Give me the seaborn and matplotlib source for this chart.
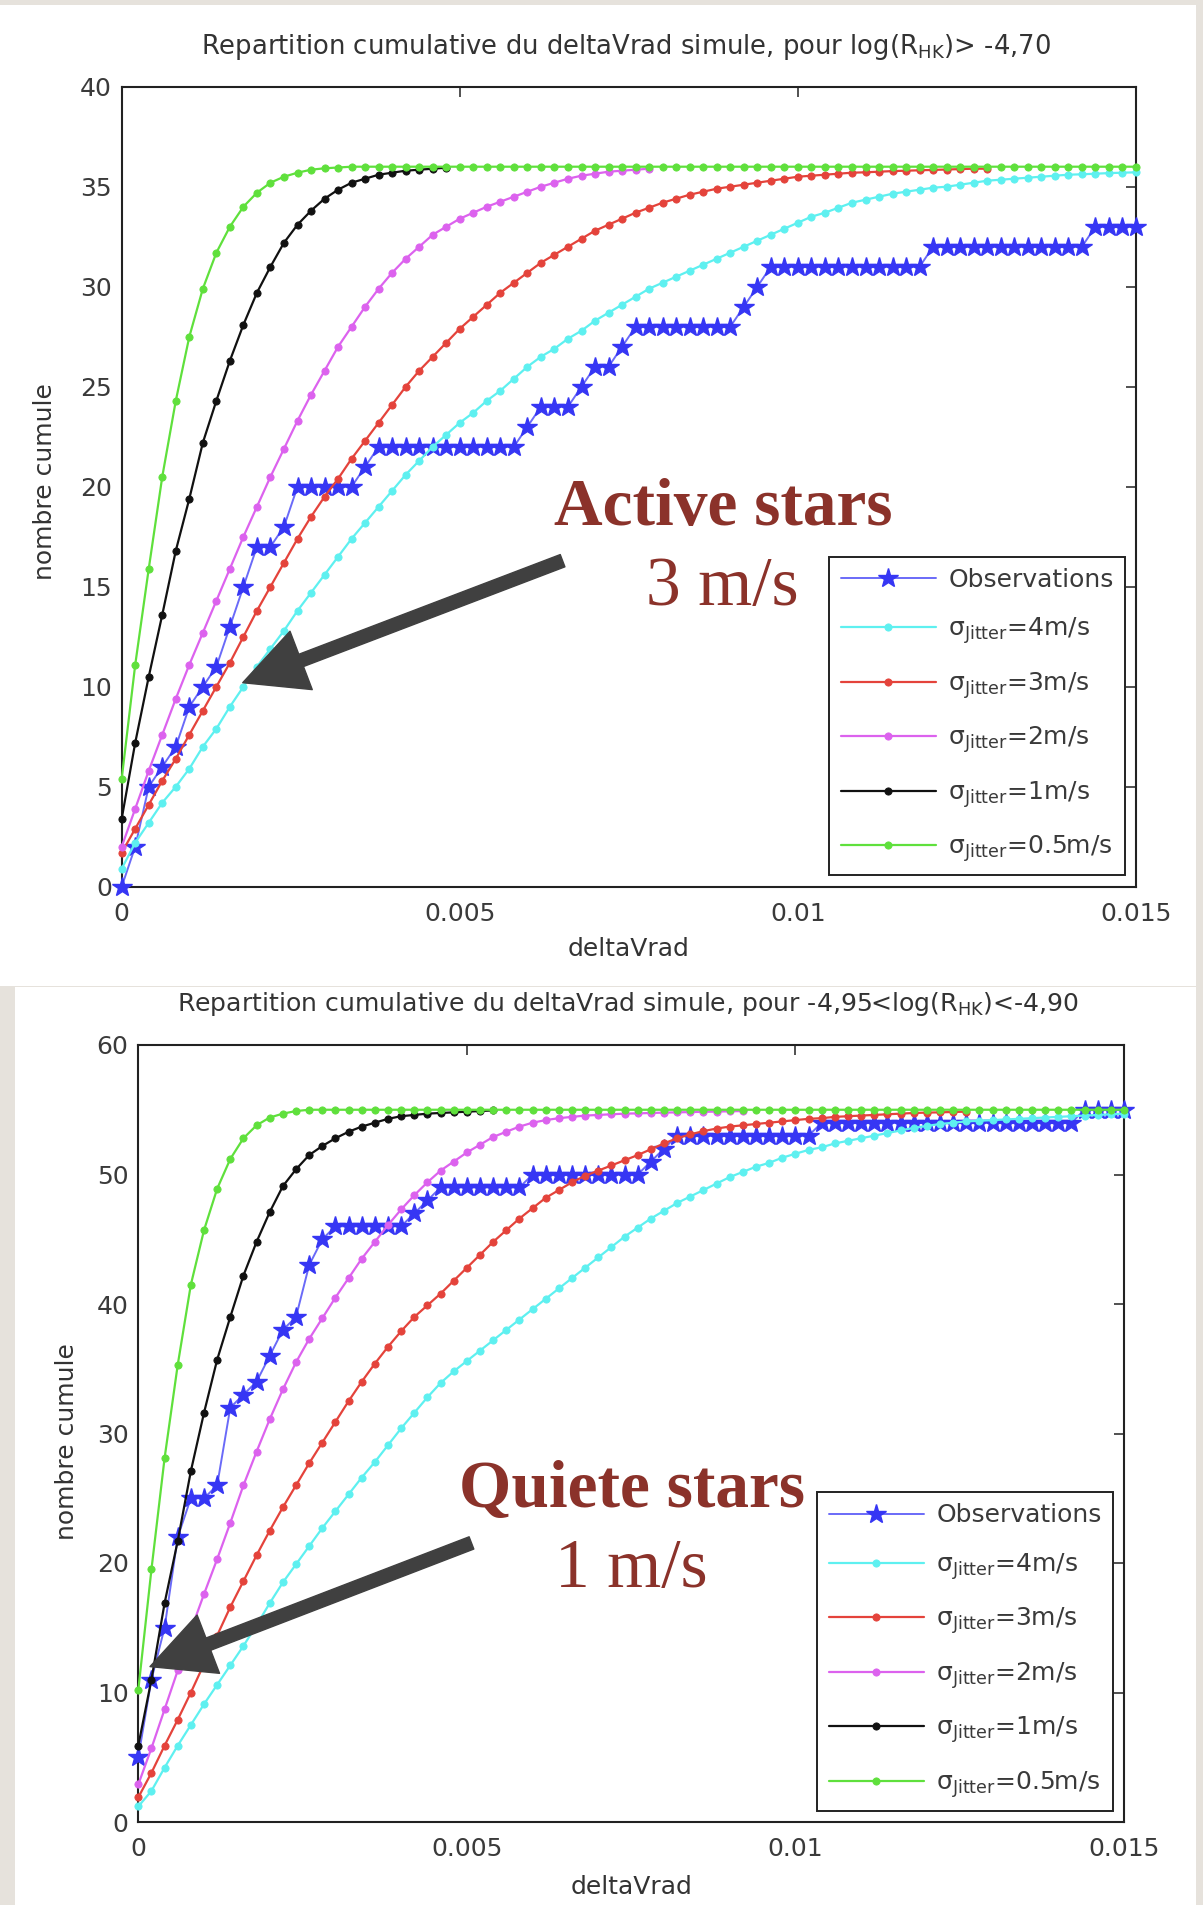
import numpy as np
import matplotlib
matplotlib.use("Agg")
import matplotlib.pyplot as plt
import seaborn as sns
from matplotlib.patches import Rectangle

# ---------------------------------------------------------------------------
# Cumulative counts of simulated deltaVrad, sampled every 0.0002 from 0
# ---------------------------------------------------------------------------
grid_step = 0.0002
grid_len = 76

# Panel 1 : log(R'HK) > -4,70  (36 stars)
obs_active = [0, 2, 5, 6, 7, 9, 10, 11, 13, 15,
              17, 17, 18, 20, 20, 20, 20, 20, 21, 22,
              22, 22, 22, 22, 22, 22, 22, 22, 22, 22,
              23, 24, 24, 24, 25, 26, 26, 27, 28, 28,
              28, 28, 28, 28, 28, 28, 29, 30, 31, 31,
              31, 31, 31, 31, 31, 31, 31, 31, 31, 31,
              32, 32, 32, 32, 32, 32, 32, 32, 32, 32,
              32, 32, 33, 33, 33, 33]
jit4_active = [0.9, 2.2, 3.2, 4.2, 5.0, 5.9, 7.0, 7.9, 9.0, 10.0,
               11.0, 11.9, 12.8, 13.8, 14.7, 15.6, 16.5, 17.4, 18.2, 19.0,
               19.8, 20.6, 21.3, 22.0, 22.6, 23.2, 23.7, 24.3, 24.8, 25.4,
               26.0, 26.5, 26.9, 27.4, 27.8, 28.3, 28.7, 29.1, 29.5, 29.9,
               30.2, 30.5, 30.8, 31.1, 31.4, 31.7, 32.0, 32.3, 32.6, 32.9,
               33.2, 33.5, 33.7, 33.95, 34.2, 34.35, 34.5, 34.65, 34.75, 34.85,
               34.95, 35.0, 35.1, 35.2, 35.3, 35.35, 35.4, 35.45, 35.5, 35.55,
               35.6, 35.62, 35.65, 35.68, 35.7, 35.72]
jit3_active = [1.7, 2.9, 4.1, 5.3, 6.4, 7.6, 8.8, 10.0, 11.2, 12.5,
               13.8, 15.0, 16.2, 17.4, 18.5, 19.5, 20.4, 21.4, 22.3, 23.2,
               24.1, 25.0, 25.8, 26.5, 27.2, 27.9, 28.5, 29.1, 29.7, 30.2,
               30.7, 31.2, 31.6, 32.0, 32.4, 32.8, 33.1, 33.4, 33.7, 33.95,
               34.2, 34.4, 34.6, 34.75, 34.9, 35.0, 35.1, 35.2, 35.3, 35.4,
               35.5, 35.55, 35.6, 35.65, 35.7, 35.72, 35.75, 35.78, 35.8, 35.82,
               35.84, 35.86, 35.88, 35.9, 35.9]
jit2_active = [2.0, 3.9, 5.8, 7.6, 9.4, 11.1, 12.7, 14.3, 15.9, 17.5,
               19.0, 20.5, 21.9, 23.3, 24.6, 25.8, 27.0, 28.0, 29.0, 29.9,
               30.7, 31.4, 32.0, 32.6, 33.0, 33.4, 33.7, 34.0, 34.25, 34.5,
               34.75, 35.0, 35.2, 35.4, 35.55, 35.65, 35.75, 35.8, 35.85, 35.9]
jit1_active = [3.4, 7.2, 10.5, 13.6, 16.8, 19.4, 22.2, 24.3, 26.3, 28.1,
               29.7, 31.0, 32.2, 33.1, 33.8, 34.4, 34.85, 35.2, 35.4, 35.6,
               35.7, 35.8, 35.85, 35.9, 35.95]
jit05_active = [5.4, 11.1, 15.9, 20.5, 24.3, 27.5, 29.9, 31.7, 33.0, 34.0,
                34.7, 35.2, 35.5, 35.7, 35.85, 35.92, 35.96] + [36.0] * 59

# Panel 2 : -4,95 < log(R'HK) < -4,90  (55 stars)
obs_quiet = [5, 11, 15, 22, 25, 25, 26, 32, 33, 34,
             36, 38, 39, 43, 45, 46, 46, 46, 46, 46,
             46, 47, 48, 49, 49, 49, 49, 49, 49, 49,
             50, 50, 50, 50, 50, 50, 50, 50, 50, 51,
             52, 53, 53, 53, 53, 53, 53, 53, 53, 53,
             53, 53, 54, 54, 54, 54, 54, 54, 54, 54,
             54, 54, 54, 54, 54, 54, 54, 54, 54, 54,
             54, 54, 55, 55, 55, 55]
jit4_quiet = [1.2, 2.4, 4.2, 5.9, 7.5, 9.1, 10.6, 12.1, 13.6, 15.2,
              16.9, 18.5, 19.9, 21.3, 22.7, 24.0, 25.3, 26.6, 27.8, 29.1,
              30.4, 31.6, 32.8, 33.9, 34.8, 35.6, 36.4, 37.2, 38.0, 38.8,
              39.6, 40.4, 41.2, 42.0, 42.8, 43.6, 44.4, 45.2, 45.9, 46.6,
              47.2, 47.8, 48.3, 48.8, 49.3, 49.8, 50.2, 50.6, 50.9, 51.3,
              51.6, 51.9, 52.1, 52.4, 52.6, 52.8, 53.0, 53.2, 53.4, 53.6,
              53.75, 53.9, 54.0, 54.1, 54.15, 54.2, 54.25, 54.3, 54.35, 54.4,
              54.45, 54.5, 54.55, 54.6, 54.65, 54.7]
jit3_quiet = [1.9, 3.8, 5.9, 7.9, 10.0, 12.2, 14.4, 16.6, 18.6, 20.6,
              22.5, 24.3, 26.0, 27.7, 29.3, 30.9, 32.5, 34.0, 35.4, 36.7,
              37.9, 39.0, 39.9, 40.8, 41.8, 42.8, 43.8, 44.8, 45.7, 46.6,
              47.4, 48.2, 48.8, 49.4, 49.9, 50.3, 50.7, 51.1, 51.5, 51.95,
              52.4, 52.8, 53.1, 53.35, 53.55, 53.7, 53.8, 53.9, 54.0, 54.1,
              54.2, 54.3, 54.35, 54.45, 54.5, 54.55, 54.6, 54.65, 54.7, 54.75,
              54.78, 54.8, 54.83, 54.85]
jit2_quiet = [2.9, 5.7, 8.7, 11.7, 14.8, 17.6, 20.3, 23.1, 26.0, 28.6,
              31.1, 33.4, 35.5, 37.3, 38.9, 40.5, 42.0, 43.5, 44.8, 46.1,
              47.3, 48.4, 49.4, 50.3, 51.0, 51.7, 52.3, 52.9, 53.3, 53.7,
              54.0, 54.2, 54.35, 54.45, 54.55, 54.6, 54.65, 54.7, 54.72, 54.75,
              54.78, 54.8, 54.82, 54.84, 54.86, 54.88, 54.9]
jit1_quiet = [5.9, 11.0, 16.9, 21.7, 27.1, 31.6, 35.7, 39.0, 42.2, 44.8,
              47.1, 49.1, 50.4, 51.5, 52.2, 52.8, 53.3, 53.7, 54.0, 54.3,
              54.5, 54.6, 54.7, 54.75, 54.8, 54.85, 54.9, 54.95]
jit05_quiet = [10.2, 19.5, 28.1, 35.3, 41.5, 45.7, 48.9, 51.2, 52.8, 53.8,
               54.4, 54.7, 54.9] + [55.0] * 63

series_labels = ["Observations",
                 r"$\sigma_{Jitter}$=4m/s",
                 r"$\sigma_{Jitter}$=3m/s",
                 r"$\sigma_{Jitter}$=2m/s",
                 r"$\sigma_{Jitter}$=1m/s",
                 r"$\sigma_{Jitter}$=0.5m/s"]
series_colors = ["#3636f4", "#5ef0f0", "#e4433b", "#dc62ee", "#111111", "#5fe03c"]

x_ticks = [0, 0.005, 0.01, 0.015]
x_ticklabels = ["0", "0.005", "0.01", "0.015"]

titles = ["Repartition cumulative du deltaVrad simule, pour log(R$_{HK}$)> -4,70",
          "Repartition cumulative du deltaVrad simule, pour -4,95<log(R$_{HK}$)<-4,90"]
notes = [("Active stars", "3 m/s"), ("Quiete stars", "1 m/s")]

# ---------------------------------------------------------------------------
sns.set_theme(style="white")
plt.rcParams["font.family"] = ["DejaVu Sans"]
plt.rcParams["mathtext.default"] = "regular"

W, H = 1203, 1905
fig = plt.figure(figsize=(W / 100, H / 100), dpi=100, facecolor="#e6e2dc")

# two white sheets on a paper background
fig.patches.append(Rectangle((0, 1 - 986 / H), 1196 / W, 981 / H,
                             transform=fig.transFigure, facecolor="white",
                             edgecolor="none", zorder=-10))
fig.patches.append(Rectangle((15 / W, 0), 1181 / W, 1 - 987 / H,
                             transform=fig.transFigure, facecolor="white",
                             edgecolor="none", zorder=-10))


def px_axes(left, top, right, bottom):
    return fig.add_axes([left / W, 1 - bottom / H, (right - left) / W, (bottom - top) / H])


ax1 = px_axes(121.7, 86.7, 1136, 886.7)
ax2 = px_axes(138.3, 1045, 1124, 1822)

grid = np.round(np.arange(grid_len) * grid_step, 6)


def draw(ax, obs, curves, ymax, ystep):
    ax.set_facecolor("white")
    sns.lineplot(x=grid[:len(obs)], y=obs, ax=ax, color="#6a6af8", lw=1.4,
                 marker="*", markersize=15, markerfacecolor=series_colors[0],
                 markeredgecolor=series_colors[0], markeredgewidth=1.0,
                 label=series_labels[0], clip_on=False, zorder=3)
    for i, vals in enumerate(curves, start=1):
        sns.lineplot(x=grid[:len(vals)], y=vals, ax=ax, color=series_colors[i],
                     lw=1.6, marker="o", markersize=5.2,
                     markerfacecolor=series_colors[i],
                     markeredgecolor=series_colors[i], markeredgewidth=0.6,
                     label=series_labels[i], clip_on=False, zorder=3 + i)
    ax.set_xlim(0, 0.015)
    ax.set_ylim(0, ymax)
    ax.set_xticks(x_ticks)
    ax.set_xticklabels(x_ticklabels)
    ax.set_yticks(np.arange(0, ymax + 1, ystep))
    ax.tick_params(axis="both", direction="in", length=7, width=1.1,
                   top=True, right=True, labelsize=18, labelcolor="#3a3a3a",
                   color="#222222")
    ax.tick_params(axis="x", pad=11)
    ax.tick_params(axis="y", pad=7)
    for sp in ax.spines.values():
        sp.set_visible(True)
        sp.set_color("#222222")
        sp.set_linewidth(1.5)
    ax.grid(False)
    leg = ax.legend(loc="lower right", fontsize=18, frameon=True, fancybox=False,
                    framealpha=1, edgecolor="#222222", borderaxespad=0.45,
                    handlelength=3.8, handletextpad=0.5, labelspacing=0.95,
                    borderpad=0.45, numpoints=1)
    leg.get_frame().set_linewidth(1.4)
    for t in leg.get_texts():
        t.set_color("#3a3a3a")


draw(ax1, obs_active, [jit4_active, jit3_active, jit2_active, jit1_active, jit05_active], 40, 5)
draw(ax2, obs_quiet, [jit4_quiet, jit3_quiet, jit2_quiet, jit1_quiet, jit05_quiet], 60, 10)

for ttl, xc, yb, fs in [(titles[0], 626 / W, 1 - 54 / H, 18.6),
                        (titles[1], 628 / W, 1 - 1011 / H, 18.1)]:
    fig.text(xc, yb, ttl, ha="center", va="baseline", fontsize=fs, color="#333333")

ax1.set_xlabel("deltaVrad", fontsize=18, color="#333333", va="center")
ax1.xaxis.set_label_coords(0.5, -0.078)
ax1.set_ylabel("nombre cumule", fontsize=18, color="#333333", va="center")
ax1.yaxis.set_label_coords(-0.0756, 0.507)
ax2.set_xlabel("deltaVrad", fontsize=18, color="#333333", va="center")
ax2.xaxis.set_label_coords(0.5, -0.084)
ax2.set_ylabel("nombre cumule", fontsize=18, color="#333333", va="center")
ax2.yaxis.set_label_coords(-0.0724, 0.49)

# annotations: arrows and labels
arrow_kw = dict(arrowstyle="simple,head_length=0.5,head_width=0.5,tail_width=0.105",
                mutation_scale=90, color="#404040", shrinkA=0, shrinkB=0)
ax1.annotate("", xy=(0.00179, 10.2), xytext=(0.00652, 16.3), arrowprops=arrow_kw, zorder=10)
ax2.annotate("", xy=(0.000178, 12.0), xytext=(0.00507, 21.55), arrowprops=arrow_kw, zorder=10)

note_color = "#8b322a"
ax1.text(0.00889, 18.09, notes[0][0], ha="center", va="baseline", fontsize=48.5,
         fontweight="bold", family="Liberation Serif", color=note_color, zorder=11)
ax1.text(0.00888, 14.09, notes[0][1], ha="center", va="baseline", fontsize=50,
         family="Liberation Serif", color=note_color, zorder=11)
ax2.text(0.00752, 24.35, notes[1][0], ha="center", va="baseline", fontsize=48.5,
         fontweight="bold", family="Liberation Serif", color=note_color, zorder=11)
ax2.text(0.00750, 18.17, notes[1][1], ha="center", va="baseline", fontsize=50,
         family="Liberation Serif", color=note_color, zorder=11)

fig.savefig("out.png", dpi=100, facecolor=fig.get_facecolor())
